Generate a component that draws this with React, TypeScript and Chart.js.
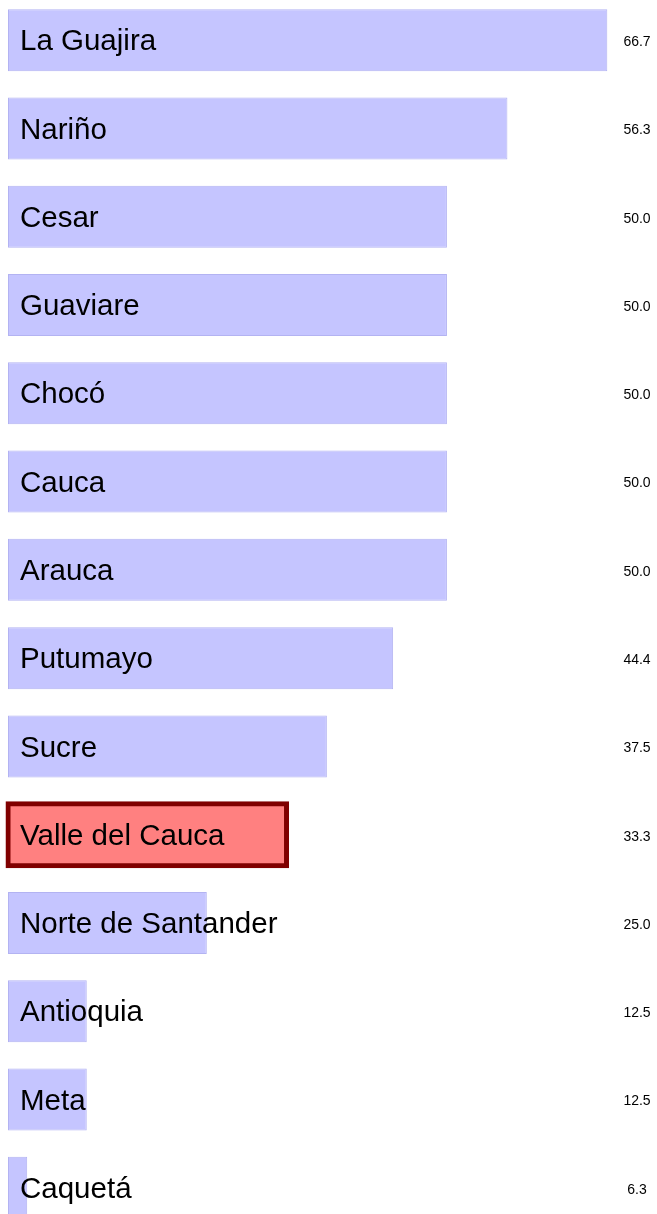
import React, { useEffect, useRef } from "react";
import { Chart, registerables } from "chart.js";

Chart.register(...registerables);

const categories: string[] = [
  "La Guajira",
  "Nariño",
  "Cesar",
  "Guaviare",
  "Chocó",
  "Cauca",
  "Arauca",
  "Putumayo",
  "Sucre",
  "Valle del Cauca",
  "Norte de Santander",
  "Antioquia",
  "Meta",
  "Caquetá",
];

const values: number[] = [66.7, 56.3, 50.0, 50.0, 50.0, 50.0, 50.0, 44.4, 37.5, 33.3, 25.0, 12.5, 12.5, 6.3];

const valueLabels: string[] = values.map((v) => v.toFixed(1));

const highlight = "Valle del Cauca";

const X_MIN = 4.3;
const X_MAX = 70;

const ROW = 88.3;

export default function App() {
  const ref = useRef<HTMLCanvasElement | null>(null);

  useEffect(() => {
    if (!ref.current) return;
    const hi = categories.indexOf(highlight);

    const labelPlugin = {
      id: "labels",
      afterDatasetsDraw(chart: any) {
        const ctx = chart.ctx;
        const yScale = chart.scales.y;
        const area = chart.chartArea;
        ctx.save();
        categories.forEach((c, i) => {
          const y = yScale.getPixelForValue(i);
          ctx.fillStyle = "#000";
          ctx.textBaseline = "middle";
          ctx.textAlign = "left";
          ctx.font = '29.5px "Liberation Sans", Arial, sans-serif';
          ctx.fillText(c, area.left + 12, y + 2);
          ctx.textAlign = "center";
          ctx.font = '14px "Liberation Sans", Arial, sans-serif';
          ctx.fillText(valueLabels[i], area.right - 2, y + 2);
        });
        ctx.restore();
      },
    };

    const chart = new Chart(ref.current, {
      type: "bar",
      data: {
        labels: categories,
        datasets: [
          {
            data: values.map((v, i) => (i === hi ? null : [X_MIN, v])) as any,
            backgroundColor: "#c5c5ff",
            borderColor: "#b3b3f2",
            borderWidth: 1,
            borderSkipped: false,
            grouped: false,
            barPercentage: 0.702,
            categoryPercentage: 1,
            inflateAmount: 0,
          },
          {
            data: values.map((v, i) => (i === hi ? [X_MIN, v] : null)) as any,
            backgroundColor: "#ff8080",
            borderColor: "#800000",
            borderWidth: 5,
            borderSkipped: false,
            grouped: false,
            barPercentage: 0.702,
            categoryPercentage: 1,
            inflateAmount: 2.5,
            clip: 6,
          } as any,
        ],
      },
      options: {
        indexAxis: "y",
        animation: false,
        responsive: false,
        maintainAspectRatio: false,
        layout: { padding: { left: 8, right: 18, top: 0, bottom: 0 } },
        plugins: {
          legend: { display: false },
          tooltip: { enabled: false },
        },
        scales: {
          x: { type: "linear", min: X_MIN, max: X_MAX, display: false },
          y: { type: "category", display: false, offset: true },
        },
      },
      plugins: [labelPlugin],
    });
    return () => chart.destroy();
  }, []);

  const h = ROW * categories.length;
  return (
    <div style={{ position: "absolute", left: 0, top: 40 - ROW / 2, width: 657, height: h }}>
      <canvas ref={ref} width={657} height={Math.round(h)} style={{ display: "block" }} />
    </div>
  );
}
